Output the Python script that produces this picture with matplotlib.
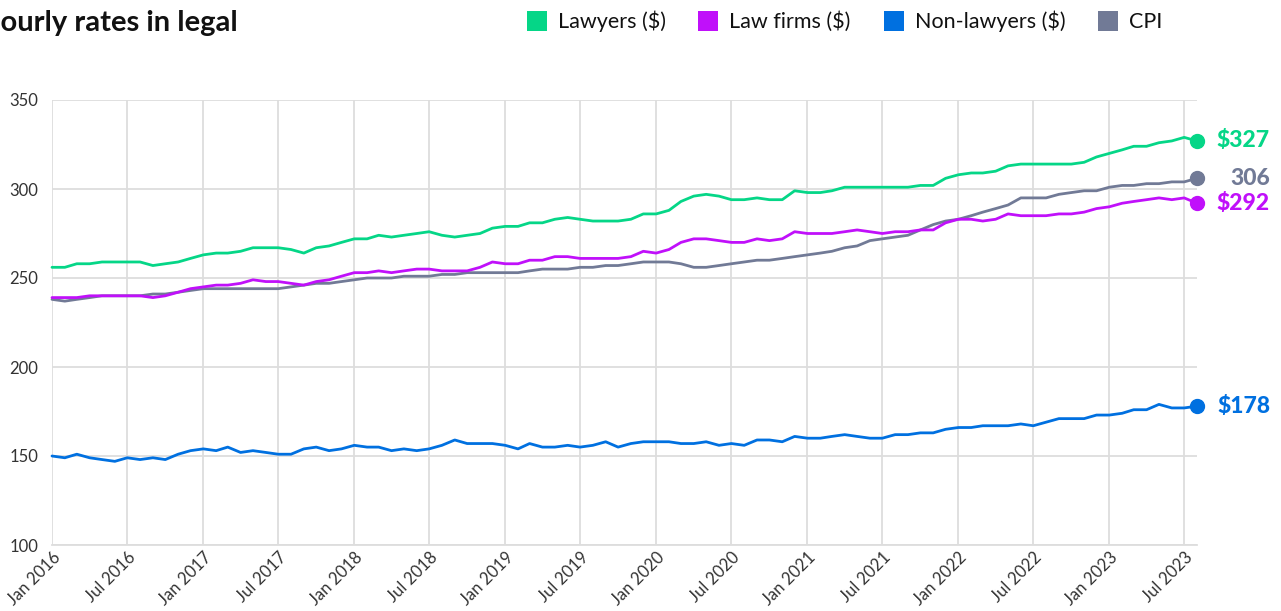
import matplotlib
matplotlib.use("Agg")
import matplotlib.pyplot as plt
import matplotlib.transforms as mtransforms
from matplotlib.patches import Rectangle
import pandas as pd

plt.rcParams['font.family'] = ['Lato', 'DejaVu Sans']

months = pd.date_range("2016-01-01", "2023-08-01", freq="MS")

lawyers = [256, 256, 258, 258, 259, 259, 259, 259, 257, 258, 259, 261,
           263, 264, 264, 265, 267, 267, 267, 266, 264, 267, 268, 270,
           272, 272, 274, 273, 274, 275, 276, 274, 273, 274, 275, 278,
           279, 279, 281, 281, 283, 284, 283, 282, 282, 282, 283, 286,
           286, 288, 293, 296, 297, 296, 294, 294, 295, 294, 294, 299,
           298, 298, 299, 301, 301, 301, 301, 301, 301, 302, 302, 306,
           308, 309, 309, 310, 313, 314, 314, 314, 314, 314, 315, 318,
           320, 322, 324, 324, 326, 327, 329, 327]
law_firms = [239, 239, 239, 240, 240, 240, 240, 240, 239, 240, 242, 244,
             245, 246, 246, 247, 249, 248, 248, 247, 246, 248, 249, 251,
             253, 253, 254, 253, 254, 255, 255, 254, 254, 254, 256, 259,
             258, 258, 260, 260, 262, 262, 261, 261, 261, 261, 262, 265,
             264, 266, 270, 272, 272, 271, 270, 270, 272, 271, 272, 276,
             275, 275, 275, 276, 277, 276, 275, 276, 276, 277, 277, 281,
             283, 283, 282, 283, 286, 285, 285, 285, 286, 286, 287, 289,
             290, 292, 293, 294, 295, 294, 295, 292]
non_lawyers = [150, 149, 151, 149, 148, 147, 149, 148, 149, 148, 151, 153,
               154, 153, 155, 152, 153, 152, 151, 151, 154, 155, 153, 154,
               156, 155, 155, 153, 154, 153, 154, 156, 159, 157, 157, 157,
               156, 154, 157, 155, 155, 156, 155, 156, 158, 155, 157, 158,
               158, 158, 157, 157, 158, 156, 157, 156, 159, 159, 158, 161,
               160, 160, 161, 162, 161, 160, 160, 162, 162, 163, 163, 165,
               166, 166, 167, 167, 167, 168, 167, 169, 171, 171, 171, 173,
               173, 174, 176, 176, 179, 177, 177, 178]
cpi = [238, 237, 238, 239, 240, 240, 240, 240, 241, 241, 242, 243,
       244, 244, 244, 244, 244, 244, 244, 245, 246, 247, 247, 248,
       249, 250, 250, 250, 251, 251, 251, 252, 252, 253, 253, 253,
       253, 253, 254, 255, 255, 255, 256, 256, 257, 257, 258, 259,
       259, 259, 258, 256, 256, 257, 258, 259, 260, 260, 261, 262,
       263, 264, 265, 267, 268, 271, 272, 273, 274, 277, 280, 282,
       283, 285, 287, 289, 291, 295, 295, 295, 297, 298, 299, 299,
       301, 302, 302, 303, 303, 304, 304, 306]

series_names = ["Lawyers ($)", "Law firms ($)", "Non-lawyers ($)", "CPI"]
end_labels = ["$327", "$292", "$178", "306"]
colors = ["#05D687", "#C010FA", "#0070E0", "#717A96"]
yticks = [100, 150, 200, 250, 300, 350]

W, H = 1281, 611
fig = plt.figure(figsize=(W / 100, H / 100), dpi=100)
ax = fig.add_axes([52 / W, (H - 545) / H, (1197 - 52) / W, (545 - 100) / H])

data = [lawyers, law_firms, non_lawyers, cpi]
for i in [3, 2, 1, 0]:
    ax.plot(months, data[i], color=colors[i], lw=2.0, solid_capstyle='round',
            solid_joinstyle='round', zorder=3, clip_on=False)
    ax.plot(months[-1], data[i][-1], 'o', color=colors[i], ms=10,
            zorder=4, clip_on=False)

blend = mtransforms.blended_transform_factory(fig.transFigure, ax.transData)
for i in range(4):
    ax.text(1270 / W, data[i][-1], end_labels[i], color=colors[i],
            fontsize=16.5, fontweight='black', ha='right', va='center',
            transform=blend)

ax.set_ylim(100, 350)
ax.set_xlim(months[0], months[-1])
ax.set_yticks(yticks)
ax.set_yticklabels([str(v) for v in yticks])

xt = pd.date_range("2016-01-01", "2023-07-01", freq="6MS")
ax.set_xticks(xt)
ax.set_xticklabels([d.strftime("%b %Y") for d in xt], rotation=45,
                   ha='right', rotation_mode='anchor')

ax.grid(True, color="#DDDDDD", lw=1.3)
ax.set_axisbelow(True)
for s in ax.spines.values():
    s.set_visible(False)
ax.spines['bottom'].set_visible(True)
ax.spines['bottom'].set_color("#DDDDDD")
ax.spines['bottom'].set_linewidth(1.3)
ax.tick_params(axis='both', length=0, labelsize=12, colors="#333333")
ax.tick_params(axis='y', pad=10)
ax.tick_params(axis='x', pad=3)

fig.text(238 / W, 1 - 23 / H, "Hourly rates in legal", fontsize=21,
         fontweight='bold', ha='right', va='center', color="#111111")

# legend: square swatches + labels across the top
sq_x = [527, 698, 884, 1098]
for x0, c, name in zip(sq_x, colors, series_names):
    fig.patches.append(Rectangle((x0 / W, 1 - 31 / H), 20 / W, 20 / H,
                                 transform=fig.transFigure, facecolor=c,
                                 edgecolor='none'))
    fig.text((x0 + 31) / W, 1 - 21.5 / H, name, fontsize=15.5,
             ha='left', va='center', color="#111111")

fig.savefig("out.png", dpi=100, facecolor='white')
